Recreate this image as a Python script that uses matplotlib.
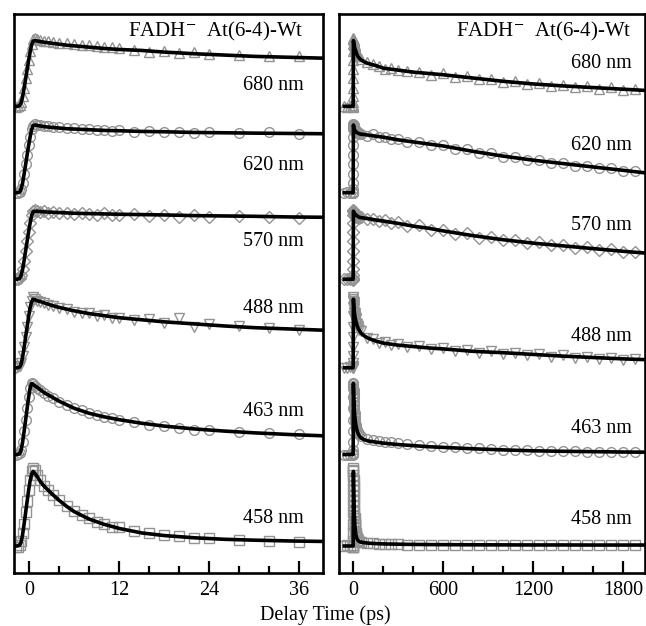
import numpy as np
import matplotlib
matplotlib.use("Agg")
import matplotlib.pyplot as plt
from matplotlib.ticker import MultipleLocator

plt.rcParams['font.family'] = ['Liberation Serif', 'DejaVu Serif']
plt.rcParams['mathtext.fontset'] = 'stix'

# ---------------- data (normalized signal) ----------------
wavelengths = ["680 nm", "620 nm", "570 nm", "488 nm", "463 nm", "458 nm"]
markers = ["^", "o", "D", "v", "o", "s"]

# time grid of the fitted curves (ps)
t_fit = [-60, -1.6, -1.3, -1.1, -0.9, -0.7, -0.5, -0.3, -0.1, 0.1, 0.3, 0.5, 0.7,
         1.0, 1.5, 2, 3, 4, 5, 6, 8, 10, 12, 15, 18, 22, 26, 30, 35, 40,
         50, 70, 100, 150, 200, 300, 400, 500, 600, 800, 1000, 1200, 1400, 1600, 1800, 2000]

fit_680 = [0, 0, 0.01, 0.05, 0.14, 0.27, 0.41, 0.55, 0.69, 0.82, 0.93, 0.99, 1.0,
           0.995, 0.985, 0.975, 0.96, 0.945, 0.93, 0.92, 0.90, 0.88, 0.865, 0.85, 0.825, 0.80, 0.78, 0.76, 0.745, 0.73,
           0.71, 0.68, 0.65, 0.62, 0.58, 0.55, 0.52, 0.50, 0.48, 0.43, 0.38, 0.34, 0.31, 0.285, 0.26, 0.235]
fit_620 = [0, 0, 0.01, 0.05, 0.14, 0.27, 0.41, 0.55, 0.69, 0.82, 0.93, 0.99, 1.0,
           0.995, 0.985, 0.975, 0.965, 0.955, 0.945, 0.94, 0.93, 0.92, 0.915, 0.905, 0.90, 0.89, 0.885, 0.88, 0.875, 0.87,
           0.865, 0.86, 0.85, 0.835, 0.82, 0.78, 0.75, 0.72, 0.69, 0.61, 0.54, 0.48, 0.43, 0.38, 0.33, 0.28]
fit_570 = [0, 0, 0.01, 0.05, 0.14, 0.27, 0.41, 0.55, 0.69, 0.82, 0.93, 0.99, 1.0,
           1.0, 0.995, 0.99, 0.985, 0.98, 0.975, 0.97, 0.965, 0.96, 0.955, 0.95, 0.945, 0.935, 0.93, 0.925, 0.915, 0.91,
           0.905, 0.90, 0.89, 0.87, 0.855, 0.82, 0.78, 0.75, 0.71, 0.64, 0.58, 0.53, 0.49, 0.45, 0.41, 0.375]
fit_488 = [0, 0, 0.01, 0.05, 0.15, 0.29, 0.44, 0.59, 0.74, 0.87, 0.96, 1.0, 0.995,
           0.98, 0.965, 0.945, 0.91, 0.88, 0.855, 0.83, 0.79, 0.76, 0.73, 0.70, 0.67, 0.64, 0.61, 0.585, 0.565, 0.545,
           0.51, 0.47, 0.43, 0.39, 0.36, 0.33, 0.31, 0.29, 0.275, 0.24, 0.22, 0.195, 0.17, 0.15, 0.13, 0.115]
fit_463 = [0, 0, 0.01, 0.06, 0.17, 0.32, 0.48, 0.64, 0.80, 0.93, 1.0, 0.99, 0.97,
           0.95, 0.91, 0.87, 0.81, 0.75, 0.70, 0.65, 0.58, 0.53, 0.49, 0.44, 0.40, 0.36, 0.33, 0.305, 0.28, 0.26,
           0.235, 0.21, 0.19, 0.175, 0.16, 0.14, 0.125, 0.11, 0.10, 0.08, 0.065, 0.052, 0.045, 0.04, 0.035, 0.032]
fit_458 = [0, 0, 0.01, 0.05, 0.15, 0.29, 0.44, 0.59, 0.74, 0.87, 0.96, 1.0, 0.98,
           0.94, 0.86, 0.80, 0.70, 0.61, 0.53, 0.46, 0.36, 0.29, 0.235, 0.175, 0.14, 0.11, 0.09, 0.078, 0.067, 0.06,
           0.052, 0.045, 0.038, 0.032, 0.028, 0.024, 0.021, 0.019, 0.018, 0.016, 0.015, 0.014, 0.014, 0.013, 0.013, 0.013]

# time grid of the measured points (ps)
t_data = [-60, -40, -20, -5,
          -1.8, -1.5, -1.3, -1.1, -0.9, -0.7, -0.5, -0.3, -0.1, 0.1, 0.3, 0.5, 0.7,
          1.0, 1.4, 1.9, 2.5, 3.2, 4.0, 5.0, 6.0, 7.0, 8.0, 9.0, 10.0, 11.0,
          12, 14, 16, 18, 20, 22, 24, 28, 32, 36,
          50, 90, 130, 170, 210, 250, 300, 360, 440, 520, 600, 680, 760, 840, 920,
          1000, 1080, 1160, 1240, 1320, 1400, 1480, 1560, 1640, 1720, 1800, 1880]

data_680 = [0.01, -0.01, 0.0, 0.01,
            -0.01, 0.0, 0.02, 0.06, 0.16, 0.28, 0.43, 0.57, 0.70, 0.84, 0.95, 1.02, 1.04,
            1.03, 1.01, 1.0, 0.99, 0.985, 0.97, 0.96, 0.95, 0.94, 0.93, 0.925, 0.91, 0.90,
            0.88, 0.86, 0.83, 0.84, 0.81, 0.83, 0.80, 0.78, 0.76, 0.76,
            0.72, 0.68, 0.64, 0.62, 0.57, 0.59, 0.55, 0.54, 0.52, 0.48, 0.50, 0.45, 0.46, 0.41, 0.42,
            0.37, 0.39, 0.34, 0.36, 0.31, 0.33, 0.29, 0.31, 0.27, 0.29, 0.25, 0.26]
data_620 = [0, 0.01, -0.01, 0,
            -0.01, 0.0, 0.01, 0.05, 0.15, 0.28, 0.42, 0.56, 0.70, 0.83, 0.94, 0.99, 1.01,
            1.0, 1.0, 0.99, 0.98, 0.97, 0.97, 0.95, 0.95, 0.94, 0.94, 0.92, 0.93, 0.91,
            0.92, 0.90, 0.91, 0.89, 0.90, 0.88, 0.89, 0.88, 0.89, 0.87,
            0.87, 0.84, 0.86, 0.82, 0.83, 0.79, 0.79, 0.75, 0.75, 0.70, 0.70, 0.65, 0.64, 0.58, 0.58,
            0.53, 0.53, 0.49, 0.48, 0.44, 0.44, 0.40, 0.40, 0.36, 0.36, 0.32, 0.32]
data_570 = [0, 0.01, 0, -0.01,
            0, 0.01, 0.02, 0.06, 0.15, 0.27, 0.41, 0.56, 0.70, 0.83, 0.94, 1.0, 1.02,
            1.01, 0.99, 1.0, 0.98, 0.99, 0.97, 0.98, 0.96, 0.97, 0.96, 0.95, 0.97, 0.94,
            0.95, 0.96, 0.93, 0.95, 0.92, 0.94, 0.92, 0.93, 0.91, 0.90,
            0.92, 0.88, 0.89, 0.85, 0.87, 0.82, 0.84, 0.78, 0.79, 0.73, 0.73, 0.67, 0.68, 0.61, 0.62,
            0.57, 0.58, 0.53, 0.54, 0.50, 0.51, 0.46, 0.47, 0.43, 0.44, 0.40, 0.40]
data_488 = [0, 0, 0.01, -0.01,
            0, 0.01, 0.02, 0.07, 0.17, 0.30, 0.45, 0.60, 0.75, 0.88, 0.98, 1.03, 1.01,
            0.98, 0.96, 0.95, 0.92, 0.90, 0.87, 0.86, 0.82, 0.80, 0.80, 0.76, 0.77, 0.72,
            0.73, 0.70, 0.71, 0.66, 0.72, 0.60, 0.64, 0.61, 0.58, 0.55,
            0.53, 0.43, 0.42, 0.36, 0.37, 0.33, 0.34, 0.30, 0.32, 0.27, 0.29, 0.25, 0.26, 0.22, 0.24,
            0.20, 0.22, 0.18, 0.20, 0.16, 0.18, 0.14, 0.16, 0.13, 0.14, 0.11, 0.13]
data_463 = [0, 0, -0.01, 0.01,
            0, 0.01, 0.02, 0.07, 0.18, 0.33, 0.49, 0.65, 0.81, 0.94, 1.01, 0.99, 0.96,
            0.94, 0.91, 0.87, 0.83, 0.79, 0.74, 0.70, 0.65, 0.62, 0.59, 0.56, 0.53, 0.51,
            0.48, 0.46, 0.42, 0.40, 0.38, 0.35, 0.35, 0.31, 0.30, 0.29,
            0.26, 0.22, 0.20, 0.19, 0.18, 0.17, 0.16, 0.15, 0.135, 0.125, 0.11, 0.10, 0.095, 0.085, 0.08,
            0.07, 0.065, 0.06, 0.055, 0.05, 0.05, 0.045, 0.04, 0.04, 0.035, 0.035, 0.03]
data_458 = [0, 0.01, 0, -0.01,
            -0.02, -0.01, 0.02, 0.07, 0.17, 0.30, 0.45, 0.60, 0.75, 0.89, 1.0, 1.05, 1.02,
            0.95, 0.88, 0.81, 0.75, 0.68, 0.61, 0.53, 0.47, 0.41, 0.37, 0.32, 0.30, 0.26,
            0.25, 0.20, 0.18, 0.15, 0.13, 0.11, 0.11, 0.08, 0.07, 0.06,
            0.06, 0.045, 0.035, 0.03, 0.03, 0.025, 0.025, 0.02, 0.02, 0.02, 0.02, 0.015, 0.015, 0.015, 0.015,
            0.015, 0.01, 0.015, 0.01, 0.015, 0.01, 0.015, 0.01, 0.015, 0.01, 0.015, 0.01]

fits = [fit_680, fit_620, fit_570, fit_488, fit_463, fit_458]
datas = [data_680, data_620, data_570, data_488, data_463, data_458]

left_ticks = [0, 12, 24, 36]
right_ticks = [0, 600, 1200, 1800]
header = r"FADH$^{-}$  At(6-4)-Wt"

# ---------------- layout ----------------
W, H = 646, 626
fig = plt.figure(figsize=(W / 100, H / 100), dpi=100)
ax_bottom_px, ax_top_px = 572.7, 14.0
axh = (ax_bottom_px - ax_top_px) / H
axb = (H - ax_bottom_px) / H
axL = fig.add_axes([14 / W, axb, (322.5 - 14) / W, axh])
axR = fig.add_axes([338.5 / W, axb, (645 - 338.5) / W, axh])

# vertical stacking (in pixel-like units, 0 = bottom spine)
bases = [466.4, 380.0, 293.5, 204.9, 118.2, 26.7]
amps = [65.7, 67.7, 68.0, 68.6, 71.0, 74.6]

gray = '#939393'
for ax in (axL, axR):
    for k in range(len(wavelengths)):
        yd = bases[k] + amps[k] * np.array(datas[k])
        yf = bases[k] + amps[k] * np.array(fits[k])
        ax.plot(t_data, yd, ls='none', marker=markers[k], mfc='none', mec=gray,
                ms=7.0 if markers[k] != 'D' else 5.8, mew=1.0, zorder=2)
        ax.plot(t_fit, yf, color='black', lw=2.6, zorder=3, solid_joinstyle='round')
    ax.set_ylim(0, ax_bottom_px - ax_top_px)
    ax.set_yticks([])
    for s in ax.spines.values():
        s.set_linewidth(1.9)
    ax.tick_params(axis='x', direction='in', length=9, width=1.6, pad=6,
                   labelsize=14.5, top=False)
    ax.tick_params(axis='x', which='minor', direction='in', length=5, width=1.6, top=False)

axL.set_xlim(-2.04, 39.1)
axL.set_xticks(left_ticks)
axL.xaxis.set_minor_locator(MultipleLocator(4))
axR.set_xlim(-99, 1945)
axR.set_xticks(right_ticks)
axR.xaxis.set_minor_locator(MultipleLocator(200))

# labels
left_label_y = [487.7, 407.7, 331.0, 264.4, 161.0, 54.4]
right_label_y = [509.4, 427.7, 347.7, 236.0, 144.4, 52.7]
for k, lab in enumerate(wavelengths):
    axL.text(0.9385, left_label_y[k], lab, transform=axL.get_yaxis_transform(),
             ha='right', va='center', fontsize=14.5)
    axR.text(0.957, right_label_y[k], lab, transform=axR.get_yaxis_transform(),
             ha='right', va='center', fontsize=14.5)

axL.text(0.9385, 572.7 - 31, header, transform=axL.get_yaxis_transform(),
         ha='right', va='center', fontsize=15)
axR.text(0.957, 572.7 - 31.7, header, transform=axR.get_yaxis_transform(),
         ha='right', va='center', fontsize=15)

fig.text(325 / W, (H - 620) / H, "Delay Time (ps)", ha='center', va='baseline', fontsize=14.5)

fig.savefig("out.png", dpi=100)
